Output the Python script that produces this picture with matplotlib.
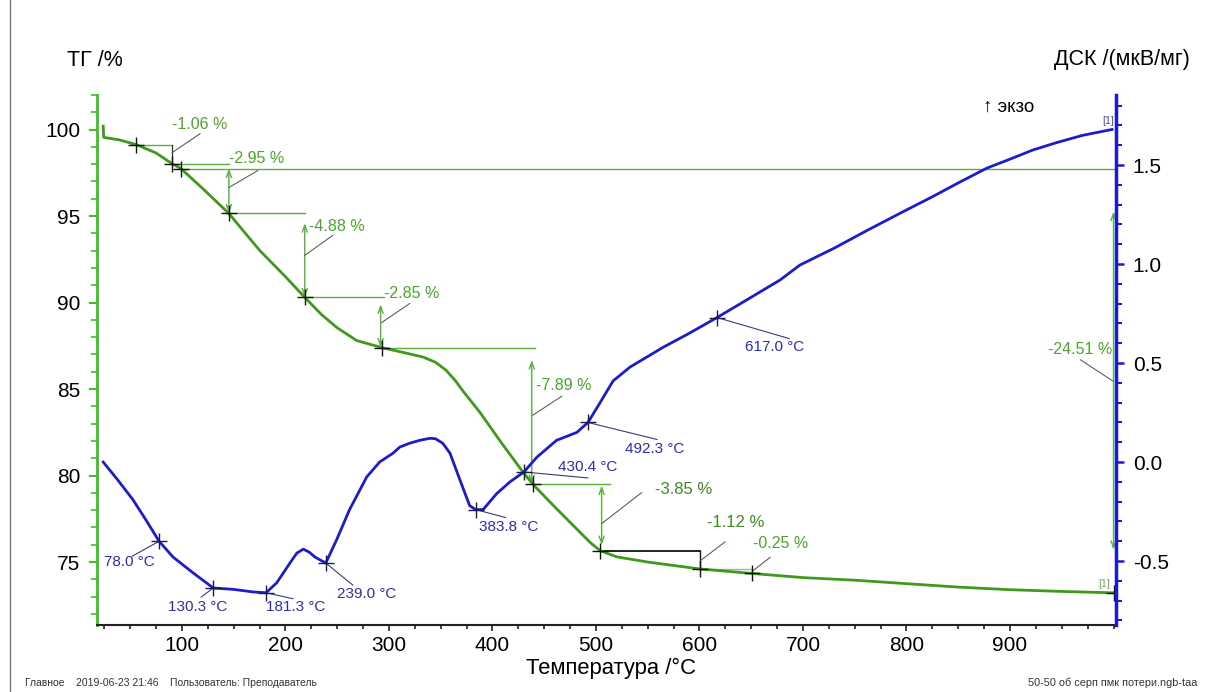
import matplotlib
matplotlib.use("Agg")
import matplotlib.pyplot as plt
from matplotlib.ticker import MultipleLocator
from matplotlib.lines import Line2D

plt.rcParams['font.family'] = ['Liberation Sans', 'DejaVu Sans']

# ---------------- data ----------------
tg_T = [24, 24.5, 40, 56, 75, 90.5, 99, 120, 145.4, 160, 175.4, 200, 218.7, 235, 249.8,
        269, 293, 315, 333, 345, 355, 364, 372, 380, 388, 408, 429.5, 439, 460, 481.6,
        495, 504, 520, 550, 575, 600.5, 650.8, 700, 750, 800, 850, 900, 950, 1000]
tg_v = [100.2, 99.55, 99.4, 99.13, 98.65, 98.03, 97.75, 96.6, 95.15, 94.1, 93.0, 91.5, 90.3,
        89.3, 88.55, 87.8, 87.4, 87.1, 86.85, 86.55, 86.1, 85.5, 84.85, 84.25, 83.65, 81.95,
        80.2, 79.5, 78.2, 76.9, 76.1, 75.66, 75.3, 75.0, 74.8, 74.6, 74.34, 74.1, 73.95,
        73.75, 73.55, 73.4, 73.3, 73.22]

dsc_T = [24, 38, 52.7, 65, 78, 91.5, 110.9, 130.3, 149.6, 168.9, 181.3, 191.6, 204.4, 211,
         217.3, 223, 228.6, 239, 249.7, 262, 278.6, 291, 304, 310.6, 320, 330, 339.6, 345,
         352, 359, 368.6, 378, 383.8, 391, 404, 417, 430.4, 443, 462, 481.6, 492.3, 504,
         516.6, 533, 565, 590, 617, 646, 678, 697, 730, 762, 795, 825, 850, 877.8, 900, 922,
         946, 970, 998.6]
dsc_v = [0.00, -0.09, -0.19, -0.29, -0.40, -0.48, -0.56, -0.636, -0.643, -0.656, -0.66,
         -0.61, -0.51, -0.46, -0.44, -0.455, -0.48, -0.51, -0.39, -0.24, -0.075, 0.00, 0.045,
         0.076, 0.095, 0.11, 0.12, 0.118, 0.095, 0.045, -0.09, -0.22, -0.24, -0.24, -0.16,
         -0.10, -0.05, 0.025, 0.11, 0.15, 0.20, 0.30, 0.41, 0.48, 0.58, 0.65, 0.73, 0.82,
         0.92, 0.995, 1.08, 1.17, 1.26, 1.34, 1.41, 1.485, 1.53, 1.576, 1.615, 1.65, 1.68]

# TG step markers
tg_mark_T = [56, 90.5, 99, 145.4, 218.7, 293, 439, 504, 600.5, 650.8, 1000]
tg_mark_v = [99.13, 98.03, 97.75, 95.15, 90.3, 87.4, 79.5, 75.66, 74.6, 74.34, 73.22]
step_labels = ['-1.06 %', '-2.95 %', '-4.88 %', '-2.85 %', '-7.89 %', '-3.85 %',
               '-1.12 %', '-0.25 %']
total_label = '-24.51 %'

# DSC peak markers
dsc_mark_T = [78.0, 130.3, 181.3, 239.0, 383.8, 430.4, 492.3, 617.0]
dsc_mark_v = [-0.40, -0.636, -0.66, -0.51, -0.24, -0.05, 0.20, 0.73]
dsc_labels = ['78.0 °C', '130.3 °C', '181.3 °C', '239.0 °C', '383.8 °C', '430.4 °C',
              '492.3 °C', '617.0 °C']

x_ticks = [100, 200, 300, 400, 500, 600, 700, 800, 900]
tg_ticks = [75, 80, 85, 90, 95, 100]
dsc_ticks = [-0.5, 0.0, 0.5, 1.0, 1.5]

# ---------------- style ----------------
G_LINE = '#3f9a1c'
G_AXIS = '#3cc024'
G_ANN = '#5aae3e'
G_TXT = '#4aa52a'
G_TXT2 = '#3d8a22'
B_LINE = '#1c1cc8'
B_AXIS = '#1a1ad0'
B_TXT = '#2c2cb4'
LEAD = '#556655'

W, H = 1209, 692
fig = plt.figure(figsize=(W / 100, H / 100), dpi=100)
ax = fig.add_axes([97 / W, 67 / H, (1116 - 97) / W, (625 - 95) / H])
ax.set_xlim(18, 1002.4)
ax.set_ylim(71.36, 102.0)
ax2 = ax.twinx()
ax2.set_ylim(-0.823, 1.854)

for a in (ax, ax2):
    a.spines['top'].set_visible(False)
ax.spines['right'].set_visible(False)
ax2.spines['left'].set_visible(False)
ax2.spines['bottom'].set_visible(False)
ax.spines['left'].set_color(G_AXIS)
ax.spines['left'].set_linewidth(2.0)
ax.spines['bottom'].set_color('#222222')
ax.spines['bottom'].set_linewidth(1.5)
ax2.spines['right'].set_color(B_AXIS)
ax2.spines['right'].set_linewidth(2.5)

ax.set_xticks(x_ticks)
ax.xaxis.set_minor_locator(MultipleLocator(25))
ax.set_yticks(tg_ticks)
ax.yaxis.set_minor_locator(MultipleLocator(1))
ax2.set_yticks(dsc_ticks)
ax2.set_yticklabels([f'{t:.1f}' for t in dsc_ticks])
ax2.yaxis.set_minor_locator(MultipleLocator(0.1))

ax.tick_params(axis='x', which='major', length=4, width=1.2, color='#222222',
               labelsize=15, pad=4)
ax.tick_params(axis='x', which='minor', length=3, width=1.2, color='#222222')
ax.tick_params(axis='y', which='major', length=6, width=1.5, color=G_AXIS,
               labelsize=15, pad=6)
ax.tick_params(axis='y', which='minor', length=4, width=1.2, color=G_AXIS)
ax2.tick_params(axis='y', which='major', length=6, width=1.8, color=B_AXIS,
                labelsize=15, pad=6)
ax2.tick_params(axis='y', which='minor', length=4, width=1.5, color=B_AXIS)

# ---- curves ----
ax.plot(tg_T, tg_v, color=G_LINE, lw=2.0, zorder=5, solid_joinstyle='round')
ax2.plot(dsc_T, dsc_v, color=B_LINE, lw=2.0, zorder=5, solid_joinstyle='round')

# markers
ax.plot(tg_mark_T, tg_mark_v, ls='none', marker='+', ms=11, mew=1.0, color='#111111',
        zorder=6)
ax2.plot(dsc_mark_T, dsc_mark_v, ls='none', marker='+', ms=11, mew=1.0, color='#1a1a50',
         zorder=6)


def hline(a, y, x0, x1, color=G_ANN, lw=1.0):
    a.plot([x0, x1], [y, y], color=color, lw=lw, zorder=3)


def vline(a, x, y0, y1, color=G_ANN, lw=1.0):
    a.plot([x, x], [y0, y1], color=color, lw=lw, zorder=3)


def darrow(a, x, ytop, ybot, shrinkA=0, shrinkB=0):
    a.annotate('', xy=(x, ybot), xytext=(x, ytop),
               arrowprops=dict(arrowstyle='<->,head_length=0.5,head_width=0.18',
                               color=G_ANN, lw=1.0, shrinkA=shrinkA, shrinkB=shrinkB),
               zorder=3)


def seg(a, x, y, p0, p1, color=LEAD, lw=0.8):
    # segment between two pixel offsets relative to data point (x, y)
    X0, Y0 = a.transData.transform((x, y))
    inv = a.transData.inverted()
    q0 = inv.transform((X0 + p0[0], Y0 + p0[1]))
    q1 = inv.transform((X0 + p1[0], Y0 + p1[1]))
    a.plot([q0[0], q1[0]], [q0[1], q1[1]], color=color, lw=lw, zorder=3)


def label(a, x, y, txt, off, color, size=11.5, ha='left'):
    a.annotate(txt, xy=(x, y), xytext=off, textcoords='offset pixels', ha=ha,
               va='center', color=color, fontsize=size, zorder=7)


mT, mv = tg_mark_T, tg_mark_v
# step 1 : -1.06
hline(ax, mv[0], mT[0], mT[1])
vline(ax, mT[1], mv[0], mv[1], color='#333333', lw=0.9)
# step 2 : -2.95
hline(ax, mv[1], mT[1], mT[3])
hline(ax, mv[2], mT[2], mT[-1])
darrow(ax, mT[3], mv[2], mv[3])
# step 3 : -4.88
hline(ax, mv[3], mT[3], mT[4])
darrow(ax, mT[4], mv[3], mv[4], shrinkA=7)
# step 4 : -2.85
hline(ax, mv[4], mT[4], mT[5] + 2)
darrow(ax, mT[5] - 1, mv[4], mv[5], shrinkA=5)
# step 5 : -7.89
hline(ax, mv[5], mT[5], mT[6] + 2)
darrow(ax, mT[6] - 1, mv[5], mv[6], shrinkA=9)
# step 6 : -3.85
hline(ax, mv[6], mT[6], mT[6] + 75)
darrow(ax, mT[7] + 1.5, mv[6], mv[7], shrinkA=1, shrinkB=4)
# step 7 : -1.12
hline(ax, mv[7], mT[7], mT[8], color='#111111', lw=1.3)
vline(ax, mT[8], mv[7], mv[8], color='#111111', lw=1.0)
# step 8 : -0.25
hline(ax, mv[8], mT[8], mT[9], color='#99b899', lw=1.0)
# total
darrow(ax, mT[-1], mv[2], mv[-1], shrinkA=31, shrinkB=31)

# labels + leaders for TG steps (pixel offsets relative to anchor)
step_anchor = [(mT[1], mv[1]), (mT[3], mv[3]), (mT[4], mv[4]), (mT[5], mv[5]),
               (mT[6], mv[6]), (mT[7] + 1.5, mv[7]), (mT[8], mv[8]), (mT[9], mv[9])]
text_off = [(0, 39), (0, 55), (4, 71), (2, 54), (3, 99), (53, 61), (7, 46), (1, 30)]
lead_off = [((0, 11), (28, 30)), ((0, 26), (29, 43)), ((0, 42), (28, 62)),
            ((0, 25), (28, 44)), ((0, 69), (29, 88)), ((0, 27), (40, 58)),
            ((0, 8), (25, 27)), ((0, 2), (18, 16))]
for i, (txt, (x, y)) in enumerate(zip(step_labels, step_anchor)):
    col = G_TXT2 if i in (5, 6) else G_TXT
    size = 12 if i in (5, 6) else 11.5
    label(ax, x, y, txt, text_off[i], col, size=size)
    seg(ax, x, y, lead_off[i][0], lead_off[i][1])

label(ax, mT[-1], mv[-1], total_label, (-1, 243), G_TXT, ha='right')
seg(ax, mT[-1], mv[-1], (-33, 233), (-1, 212))
label(ax, mT[-1], mv[-1], '[1]', (-15, 9), '#66aa55', size=7.5)

# DSC peak labels
dsc_text_off = [(-55, -21), (-45, -19), (0, -14), (11, -31), (3, -17), (34, 5),
                (37, -27), (28, -29)]
dsc_lead_off = [(-27, -15), (-12, -9), (27, -6), (27, -22), (30, -8), (64, -6),
                (69, -17), (72, -21)]
for txt, x, y, to, lo in zip(dsc_labels, dsc_mark_T, dsc_mark_v, dsc_text_off, dsc_lead_off):
    label(ax2, x, y, txt, to, B_TXT, size=11)
    seg(ax2, x, y, (0, 0), lo, color='#3a3a7a')
label(ax2, dsc_T[-1], dsc_v[-1], '[1]', (-10, 8), '#4444bb', size=7.5)

# ---- texts ----
fig.text(67 / W, 1 - 60 / H, 'ТГ /%', fontsize=15.5, va='center', ha='left')
fig.text(1190 / W, 1 - 60 / H, 'ДСК /(мкВ/мг)', fontsize=15.5, va='center', ha='right')
fig.text(983 / W, 1 - 107 / H, '↑ экзо', fontsize=13.5, va='center', ha='left',
         family=['Liberation Sans', 'DejaVu Sans'])
fig.text(611 / W, 1 - 674 / H, 'Температура /°C', fontsize=15.8, va='baseline',
         ha='center')
fig.text(25 / W, 1 - 683 / H,
         'Главное    2019-06-23 21:46    Пользователь: Преподаватель',
         fontsize=7.5, va='center', ha='left', color='#333333')
fig.text(1197 / W, 1 - 683 / H, '50-50 об серп пмк потери.ngb-taa',
         fontsize=7.8, va='center', ha='right', color='#333333')
fig.add_artist(Line2D([10 / W, 10 / W], [0, 1], color='#777777', lw=1.0))

fig.savefig('out.png', dpi=100, facecolor='white')
